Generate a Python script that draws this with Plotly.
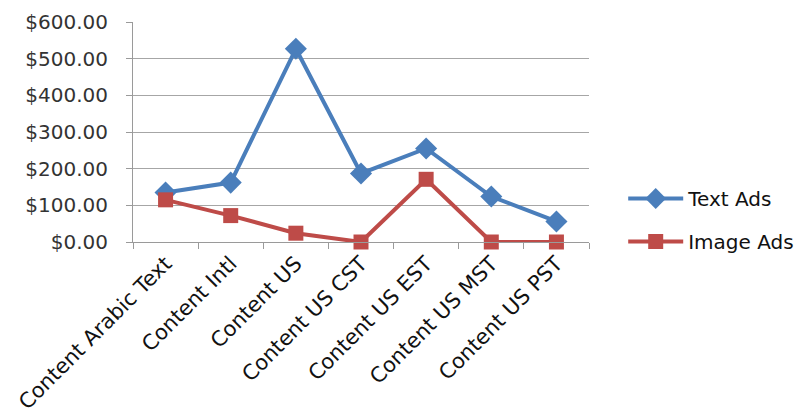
import plotly.graph_objects as go

categories = ["Content Arabic Text", "Content Intl", "Content US", "Content US CST",
              "Content US EST", "Content US MST", "Content US PST"]
text_ads = [135, 162, 527, 187, 255, 124, 56]
image_ads = [115, 72, 24, 0, 171, 0, 0]
y_ticks = [0, 100, 200, 300, 400, 500, 600]
y_tick_labels = ["$%.2f" % v for v in y_ticks]

FONT = "DejaVu Sans"

fig = go.Figure()
fig.add_trace(go.Scatter(
    x=categories, y=text_ads, name="Text Ads", mode="lines+markers",
    line=dict(color="#4A7EBB", width=4),
    marker=dict(symbol="diamond", size=17, color="#4A7EBB"),
    legendgroup="a", cliponaxis=False))
fig.add_trace(go.Scatter(
    x=categories, y=image_ads, name="Image Ads", mode="lines+markers",
    line=dict(color="#BE4B48", width=4),
    marker=dict(symbol="square", size=15, color="#BE4B48"),
    legendgroup="b", cliponaxis=False))

fig.update_layout(
    width=801, height=417,
    margin=dict(l=133, r=212, t=22, b=175, autoexpand=False),
    paper_bgcolor="white", plot_bgcolor="white",
    font=dict(family=FONT, size=20, color="#222222"),
    showlegend=True,
    legend=dict(x=1.075, y=0.10, xanchor="left", yanchor="middle",
                font=dict(family=FONT, size=20, color="#111111"),
                traceorder="grouped", tracegroupgap=14, itemwidth=55,
                bgcolor="rgba(0,0,0,0)"),
)
fig.update_xaxes(
    type="category", range=[-0.5, 6.5], tickangle=-45,
    tickfont=dict(family=FONT, size=21, color="#111111"),
    showgrid=False, showline=True, linecolor="#9a9a9a", linewidth=1,
    ticks="outside", tickson="boundaries", ticklen=6, tickcolor="#9a9a9a",
)
fig.update_yaxes(
    range=[0, 600], tickvals=y_ticks, ticktext=y_tick_labels,
    tickfont=dict(family=FONT, size=20, color="#333333"),
    showgrid=True, gridcolor="#a6a6a6", gridwidth=1,
    showline=True, linecolor="#9a9a9a", linewidth=1,
    ticks="outside", ticklen=6, tickcolor="#9a9a9a",
    zeroline=False, ticklabelstandoff=14,
)

fig.write_html("out.html")
